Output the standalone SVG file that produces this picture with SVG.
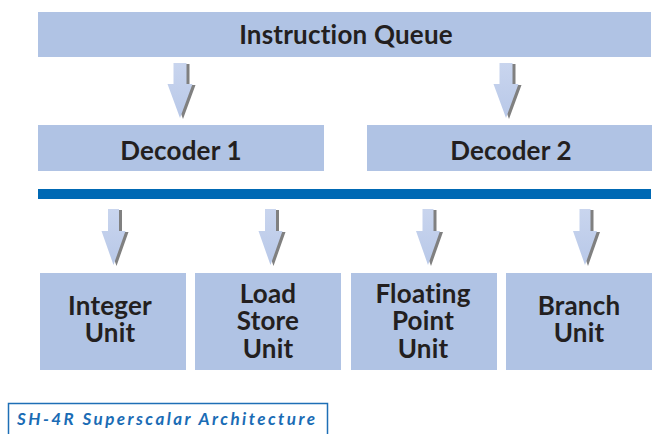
<svg xmlns="http://www.w3.org/2000/svg" width="658" height="434" viewBox="0 0 658 434">
<style>
.box{fill:#b0c3e4}
.lbl{font-family:Lato,"Open Sans",sans-serif;font-weight:bold;font-size:26px;letter-spacing:0.2px;fill:#231f20;text-anchor:middle}
.arr{fill:url(#ag)}
.sh{fill:#808080}
.cap{font-family:Lato,"Open Sans",sans-serif;font-weight:bold;font-style:italic;font-size:17px;fill:#1a6cb5}
</style>
<defs>
<linearGradient id="ag" x1="0" y1="0" x2="0" y2="1">
<stop offset="0" stop-color="#c9d5ee"/>
<stop offset="1" stop-color="#b8c8e8"/>
</linearGradient>
<path id="at" d="M-6.5,0 H6.5 V21 H12.5 L0,55 L-12.5,21 H-6.5 Z"/>
<path id="ab" d="M-5.5,0 H5.5 V22 H12 L0,56 L-12,22 H-5.5 Z"/>
</defs>
<g id="instruction-queue">
<rect class="box" x="38" y="12" width="613" height="45"/>
<text class="lbl" x="346" y="44">Instruction Queue</text>
</g>
<g id="decoder-1">
<rect class="box" x="38" y="125" width="286" height="46"/>
<text class="lbl" x="181" y="160">Decoder 1</text>
</g>
<g id="decoder-2">
<rect class="box" x="367" y="125" width="285" height="46"/>
<text class="lbl" x="511" y="160">Decoder 2</text>
</g>
<g id="bus">
<rect x="38" y="189" width="613" height="10" fill="#0069b4"/>
</g>
<g id="integer-unit">
<rect class="box" x="40" y="273" width="146" height="97"/>
<text class="lbl" x="110" y="315">Integer</text>
<text class="lbl" x="110" y="342">Unit</text>
</g>
<g id="load-store-unit">
<rect class="box" x="195" y="273" width="146" height="97"/>
<text class="lbl" x="268" y="303">Load</text>
<text class="lbl" x="268" y="330">Store</text>
<text class="lbl" x="268" y="358">Unit</text>
</g>
<g id="floating-point-unit">
<rect class="box" x="351" y="273" width="146" height="97"/>
<text class="lbl" x="423" y="303">Floating</text>
<text class="lbl" x="423" y="330">Point</text>
<text class="lbl" x="423" y="358">Unit</text>
</g>
<g id="branch-unit">
<rect class="box" x="506" y="273" width="146" height="97"/>
<text class="lbl" x="579" y="315">Branch</text>
<text class="lbl" x="579" y="342">Unit</text>
</g>
<g id="connectors">
<use href="#at" class="sh" x="183" y="64"/><use href="#at" class="arr" x="180" y="63"/>
<use href="#at" class="sh" x="509" y="64"/><use href="#at" class="arr" x="506" y="63"/>
<use href="#ab" class="sh" x="116.5" y="210"/><use href="#ab" class="arr" x="113.5" y="209"/>
<use href="#ab" class="sh" x="273.5" y="210"/><use href="#ab" class="arr" x="270.5" y="209"/>
<use href="#ab" class="sh" x="431" y="210"/><use href="#ab" class="arr" x="428" y="209"/>
<use href="#ab" class="sh" x="588" y="210"/><use href="#ab" class="arr" x="585" y="209"/>
</g>
<g id="caption">
<path d="M8.5,440 V403.5 H327.5 V440" fill="none" stroke="#1e6fb6" stroke-width="1.5"/>
<text class="cap" x="17" y="425" textLength="298" lengthAdjust="spacing">SH-4R Superscalar Architecture</text>
</g>
</svg>
